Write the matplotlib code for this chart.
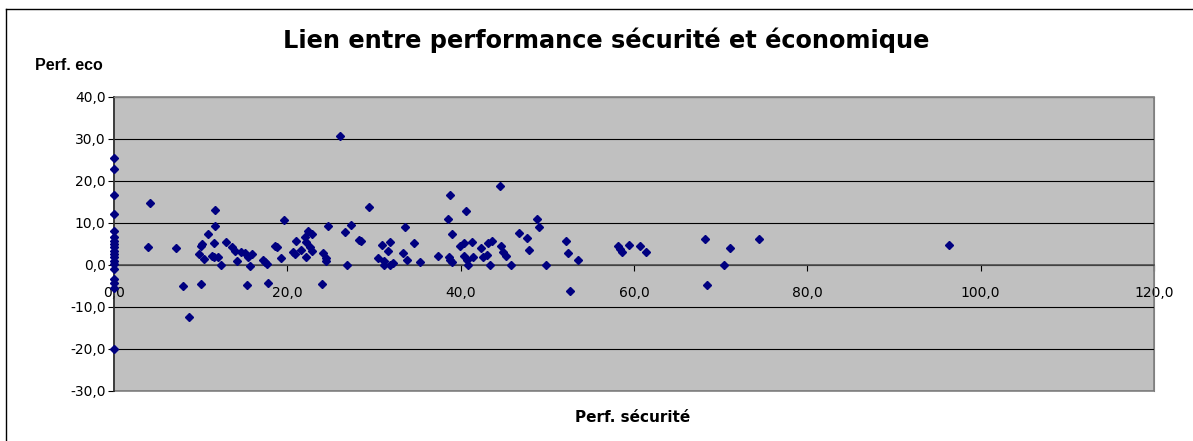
import matplotlib

matplotlib.use("Agg")
import matplotlib.pyplot as plt
from matplotlib.lines import Line2D
from matplotlib.ticker import FuncFormatter, MultipleLocator

# Perf. sécurité (x) / Perf. eco (y)
perf_securite = [
    0, 0, 0, 0, 0, 0, 0, 0, 0, 0, 0, 0, 0, 0, 0, 0, 0, 0, 0,
    4.1, 3.9, 7.2, 8.0, 8.7, 10.0, 9.8, 10.0, 10.2, 10.4, 10.9, 11.3, 11.5,
    11.6, 11.6, 11.5, 12.0, 12.4, 12.9, 13.6, 13.95, 14.2, 14.7, 15.1, 15.5,
    15.7, 15.9, 15.4, 17.2, 17.4, 17.7, 17.8, 18.6, 18.8, 19.3, 19.6, 20.7,
    20.9, 21.0, 21.6, 22.0, 22.1, 22.2, 22.4, 22.8, 22.6, 22.8, 24.0, 24.1,
    24.5, 24.5, 24.7, 26.1, 26.7, 26.9, 27.4, 28.3, 28.5, 29.4, 30.5, 30.9,
    31.1, 31.2, 31.6, 31.9, 31.9, 32.2, 33.3, 33.6, 33.8, 34.6, 35.3, 37.4,
    38.5, 38.75, 38.6, 38.8, 39.0, 39.0, 39.9, 40.4, 40.4, 40.6, 40.7, 40.9,
    41.3, 41.4, 42.3, 42.6, 43.0, 43.2, 43.6, 43.4, 44.5, 44.7, 44.9, 45.2,
    45.75, 46.7, 47.7, 47.9, 48.75, 49.0, 49.9, 52.2, 52.4, 52.6, 53.5, 58.1,
    58.4, 58.6, 59.4, 60.7, 61.4, 68.2, 68.4, 70.4, 71.1, 74.4, 96.3,
]
perf_eco = [
    25.4, 22.8, 16.6, 12.1, 8.2, 6.6, 5.8, 5.0, 4.2, 3.4, 2.6, 1.8, 1.0, 0.2,
    -1.0, -3.4, -4.2, -5.4, -20.0,
    14.7, 4.4, 4.0, -5.0, -12.4, -4.6, 2.6, 4.6, 5.0, 1.4, 7.4, 2.2, 1.8,
    13.0, 9.2, 5.3, 1.8, 0.0, 5.4, 4.2, 3.3, 0.9, 3.0, 2.8, 1.8,
    -0.2, 2.6, -4.8, 1.2, 0.8, 0.2, -4.4, 4.6, 4.4, 1.7, 10.6, 3.0,
    2.6, 5.7, 3.6, 6.6, 5.4, 2.0, 8.2, 7.3, 4.4, 3.4, -4.6, 2.8,
    1.7, 1.0, 9.4, 30.8, 7.8, 0.0, 9.5, 6.0, 5.6, 13.8, 1.7, 4.8,
    0.1, 1.0, 3.3, 5.4, 0.1, 0.5, 2.8, 9.0, 1.2, 5.3, 0.6, 2.1,
    10.9, 16.6, 2.0, 1.2, 0.8, 7.3, 4.6, 5.2, 2.2, 12.9, 1.2, 0.1,
    5.4, 1.8, 4.0, 1.8, 2.4, 5.2, 5.8, 0.1, 18.8, 4.6, 3.0, 2.2,
    0.0, 7.6, 6.4, 3.6, 10.9, 9.0, 0.0, 5.8, 2.9, -6.2, 1.3, 4.5,
    3.8, 3.2, 4.8, 4.5, 3.2, 6.1, -4.7, 0.0, 4.0, 6.1, 4.8,
]

W, H = 1193, 441
fig = plt.figure(figsize=(W / 100, H / 100), dpi=100)
ax = fig.add_axes([114 / W, 1 - 391 / H, 1040 / W, 294 / H])

ax.set_facecolor("#c0c0c0")
ax.patch.set_edgecolor("#808080")
ax.patch.set_linewidth(1.2)

ax.plot(perf_securite, perf_eco, linestyle="none", marker="D", ms=3.9,
        color="#000080", clip_on=False, zorder=3)

ax.set_xlim(0, 120)
ax.set_ylim(-30, 40)
ax.xaxis.set_major_locator(MultipleLocator(20))
ax.yaxis.set_major_locator(MultipleLocator(10))
fmt = FuncFormatter(lambda v, p: f"{v:.1f}".replace(".", ","))
ax.xaxis.set_major_formatter(fmt)
ax.yaxis.set_major_formatter(fmt)

ax.yaxis.grid(True, color="black", linewidth=0.8)
ax.set_axisbelow(True)

ax.spines["bottom"].set_position(("data", 0))
ax.spines["bottom"].set_color("#505050")
ax.spines["bottom"].set_linewidth(1.2)
ax.spines["left"].set_color("#303030")
ax.spines["left"].set_linewidth(1.2)
ax.spines["top"].set_color("#808080")
ax.spines["right"].set_color("#808080")

ax.tick_params(axis="x", direction="out", length=4, width=0.8, pad=11,
               labelsize=10, colors="black")
ax.tick_params(axis="y", direction="out", length=4, width=0.8, pad=2,
               labelsize=10, colors="black")

fig.text(606 / W, 1 - 40 / H, "Lien entre performance sécurité et économique",
         ha="center", va="center", fontsize=17.3, fontweight="bold",
         family="DejaVu Sans")
fig.text(35 / W, 1 - 65 / H, "Perf. eco", ha="left", va="center",
         fontsize=11.5, fontweight="bold", family="Liberation Sans")
fig.text(633 / W, 1 - 418 / H, "Perf. sécurité", ha="center", va="center",
         fontsize=11, fontweight="bold", family="DejaVu Sans")

# outer chart frame, only its top and left edges fall inside the image
fig.add_artist(Line2D([6 / W, 1], [1 - 9 / H, 1 - 9 / H],
                      transform=fig.transFigure, color="black", linewidth=1))
fig.add_artist(Line2D([6 / W, 6 / W], [0, 1 - 9 / H],
                      transform=fig.transFigure, color="black", linewidth=1))

fig.savefig("out.png", dpi=100)
